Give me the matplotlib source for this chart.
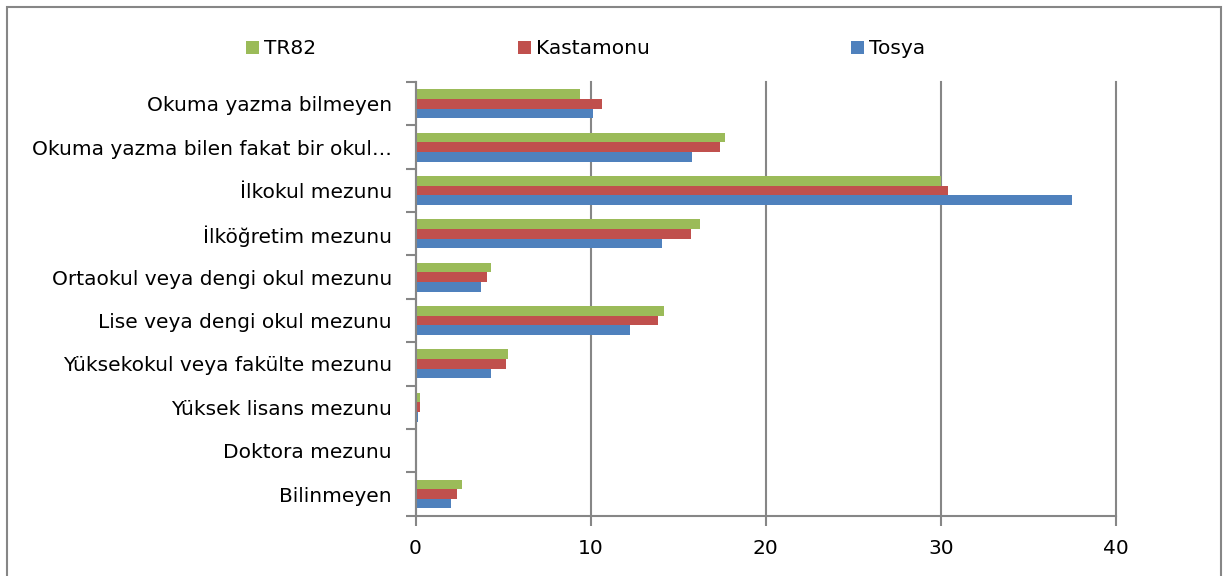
import matplotlib
matplotlib.use("Agg")
import matplotlib.pyplot as plt
from matplotlib.patches import Rectangle, Patch
import numpy as np

categories = [
    "Okuma yazma bilmeyen",
    "Okuma yazma bilen fakat bir okul…",
    "İlkokul mezunu",
    "İlköğretim mezunu",
    "Ortaokul veya dengi okul mezunu",
    "Lise veya dengi okul mezunu",
    "Yüksekokul veya fakülte mezunu",
    "Yüksek lisans mezunu",
    "Doktora mezunu",
    "Bilinmeyen",
]
tr82 = [9.4, 17.65, 30.0, 16.25, 4.3, 14.2, 5.3, 0.27, 0.06, 2.65]
kastamonu = [10.65, 17.4, 30.4, 15.75, 4.1, 13.85, 5.18, 0.25, 0.06, 2.38]
tosya = [10.13, 15.8, 37.5, 14.1, 3.75, 12.22, 4.29, 0.13, 0.02, 2.0]
series_names = ["TR82", "Kastamonu", "Tosya"]
colors = ["#9BBB59", "#C0504D", "#4F81BD"]
xticks = [0, 10, 20, 30, 40]

plt.rcParams['font.family'] = ['DejaVu Sans']
fig = plt.figure(figsize=(12.25, 5.76), dpi=100)
ax = fig.add_axes([415.5/1225, 1-515.7/576, (1116-415.5)/1225, (515.7-82)/576])

n = len(categories)
y = np.arange(n)
h = 1/4.5
gridc = "#868686"
fs = 14.5
for i, (vals, c) in enumerate(zip([tr82, kastamonu, tosya], colors)):
    ax.barh(y + (i-1)*h, vals, height=h, color=c, edgecolor='none', zorder=3)

ax.set_ylim(n-0.5, -0.5)
ax.set_xlim(0, 40)
ax.set_xticks(xticks)
ax.set_xticklabels([str(t) for t in xticks], fontsize=fs)
ax.set_yticks(y)
ax.set_yticklabels(categories, fontsize=fs)
ax.set_yticks(np.arange(-0.5, n, 1), minor=True)
ax.tick_params(axis='y', which='major', length=0, pad=17)
ax.tick_params(axis='y', which='minor', length=7, width=1.5, color=gridc)
ax.tick_params(axis='x', length=7, width=1.5, color=gridc, pad=10)
ax.grid(axis='x', color=gridc, linewidth=1.5, zorder=0)
for gl in ax.get_xgridlines():
    gl.set_clip_on(False)
for s in ['top', 'right']:
    ax.spines[s].set_visible(False)
for s in ['left', 'bottom']:
    ax.spines[s].set_color(gridc)
    ax.spines[s].set_linewidth(1.5)
    ax.spines[s].set_zorder(4)

handles = [Patch(facecolor=c, edgecolor='none') for c in colors]
fig.legend(handles, series_names, loc='center left', bbox_to_anchor=(228/1225, 1-49/576),
           ncol=3, frameon=False, fontsize=fs, handlelength=0.65, handleheight=0.65,
           handletextpad=0.25, columnspacing=10.0)

fig.patches.append(Rectangle((7/1225, -0.01), (1220.5-7)/1225, 1.01-7/576,
                             transform=fig.transFigure, fill=False,
                             edgecolor=gridc, linewidth=1.5))
fig.savefig("out.png", dpi=100)
